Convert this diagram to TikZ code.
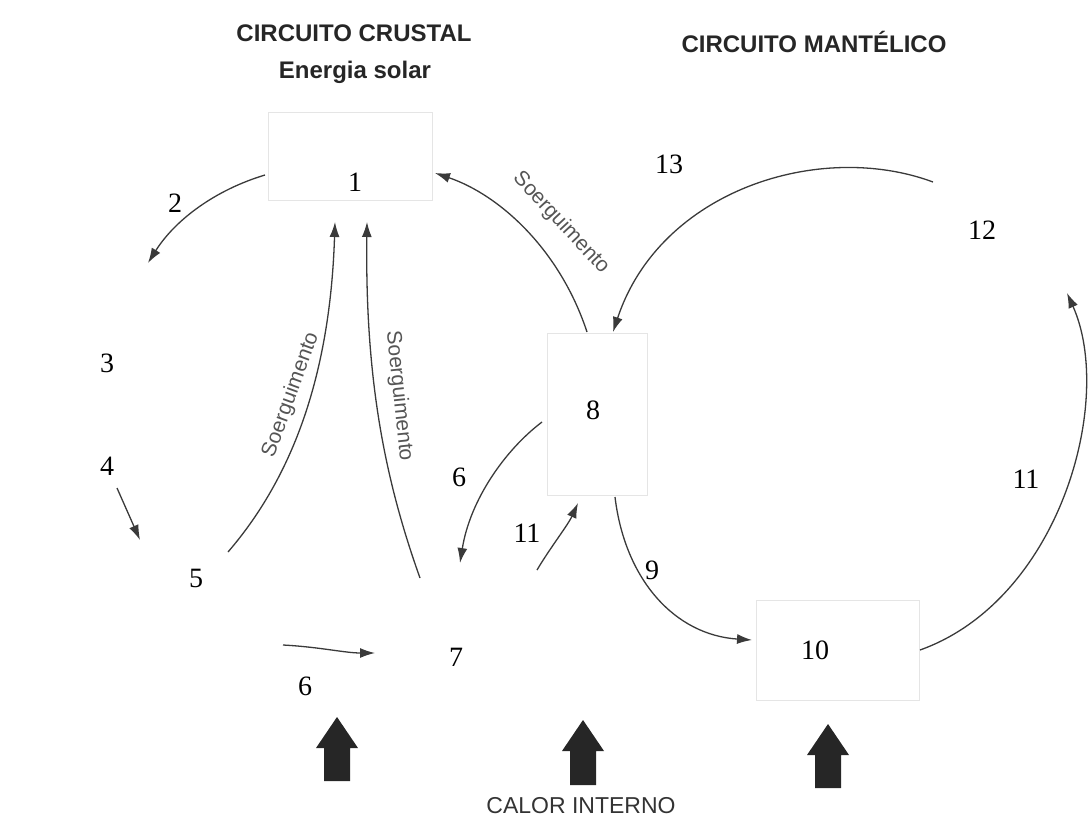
\documentclass[tikz,border=0pt]{standalone}
\usepackage{fontspec}
\setmainfont{Liberation Serif}
\setsansfont{Liberation Sans}
\usetikzlibrary{arrows.meta}
\definecolor{inkline}{HTML}{3A3A3A}
\definecolor{inktext}{HTML}{555555}

\begin{document}
\begin{tikzpicture}[x=1pt,y=-1pt,
	num/.style={font=\fontsize{28}{30}\selectfont, inner sep=0},
	title/.style={font=\sffamily\bfseries\fontsize{24}{26}\selectfont, text=black!85},
	soerg/.style={font=\sffamily\fontsize{21}{23}\selectfont, text=inktext, inner sep=0},
	box/.style={draw=black!10, fill=white, line width=0.6pt, inner sep=0},
	flow/.style={draw=inkline, line width=1.3pt, -{Latex[length=15pt,width=10pt]}},
	heat/.style={fill=black!85}]
	\useasboundingbox (0,0) rectangle (1092,830);
	% titles
	\node[title] (crustal) at (354,33) {CIRCUITO CRUSTAL};
	\node[title] (solar) at (355,72) {Energia solar};
	\node[title] (mantel) at (814,42) {CIRCUITO MANTÉLICO};
	\node[font=\sffamily\fontsize{23}{25}\selectfont, text=black!80] (calor) at (581,806) {CALOR INTERNO};
	% boxes
	\node[box, minimum width=164, minimum height=88] (b1) at (350,156) {};
	\node[box, minimum width=100, minimum height=162] (b8) at (597,414) {};
	\node[box, minimum width=163, minimum height=100] (b10) at (838,650) {};
	% numbers
	\node[num] (n1) at (355,182) {1};
	\node[num] (n2) at (175,203) {2};
	\node[num] (n3) at (107,363) {3};
	\node[num] (n4) at (107,466) {4};
	\node[num] (n5) at (196,578) {5};
	\node[num] (n6a) at (459,477) {6};
	\node[num] (n6b) at (305,686) {6};
	\node[num] (n7) at (456,657) {7};
	\node[num] (n8) at (593,410) {8};
	\node[num] (n9) at (652,570) {9};
	\node[num] (n10) at (815,650) {10};
	\node[num] (n11a) at (527,533) {11};
	\node[num] (n11b) at (1026,479) {11};
	\node[num] (n12) at (982,230) {12};
	\node[num] (n13) at (669,164) {13};
	% free ends of the arrows
	\coordinate (a2s) at (265,175);   \coordinate (a2e) at (148,263);
	\coordinate (a4s) at (117,488);   \coordinate (a4e) at (140,540);
	\coordinate (s5s) at (228,552);   \coordinate (s5e) at (335,222);
	\coordinate (s7s) at (420,578);   \coordinate (s7e) at (367,222);
	\coordinate (s8s) at (587,332);   \coordinate (s8e) at (435,173);
	\coordinate (a13s) at (933,182);  \coordinate (a13e) at (613,332);
	\coordinate (a11s) at (920,650);  \coordinate (a11e) at (1067,293);
	\coordinate (a6s) at (542,422);   \coordinate (a6e) at (460,563);
	\coordinate (c11s) at (537,570);  \coordinate (c11e) at (578,503);
	\coordinate (a9s) at (615,497);   \coordinate (a9e) at (752,640);
	\coordinate (b6s) at (283,645);   \coordinate (b6e) at (375,653);
	% crustal circuit
	\draw[flow] (a2s) .. controls (215,190) and (175,220) .. (a2e);
	\draw[flow] (a4s) -- (a4e);
	\draw[flow] (s5s) .. controls (290,480) and (330,380) .. (s5e);
	\draw[flow] (s7s) .. controls (385,480) and (365,380) .. (s7e);
	\draw[flow] (b6s) .. controls (320,647) and (345,653) .. (b6e);
	\node[soerg, rotate=70] (lab5) at (291,395) {Soerguimento};
	\node[soerg, rotate=-84] (lab7) at (399,396) {Soerguimento};
	% mantle circuit
	\draw[flow] (s8s) .. controls (560,250) and (500,195) .. (s8e);
	\node[soerg, rotate=-47] (lab8) at (561,223) {Soerguimento};
	\draw[flow] (a13s) .. controls (820,140) and (660,190) .. (a13e);
	\draw[flow] (a11s) .. controls (1060,600) and (1115,400) .. (a11e);
	\draw[flow] (a6s) .. controls (505,450) and (470,500) .. (a6e);
	\draw[flow] (c11s) .. controls (550,548) and (568,525) .. (c11e);
	\draw[flow] (a9s) .. controls (625,580) and (675,635) .. (a9e);
	% internal heat
	\foreach \ax/\tp/\bt in {337/717/781, 583/720/785, 828/724/788}
	\fill[heat] (\ax-13,\bt) -- (\ax-13,\tp+31) -- (\ax-21,\tp+31) -- (\ax,\tp) -- (\ax+21,\tp+31) -- (\ax+13,\tp+31) -- (\ax+13,\bt) -- cycle;
\end{tikzpicture}
\end{document}
